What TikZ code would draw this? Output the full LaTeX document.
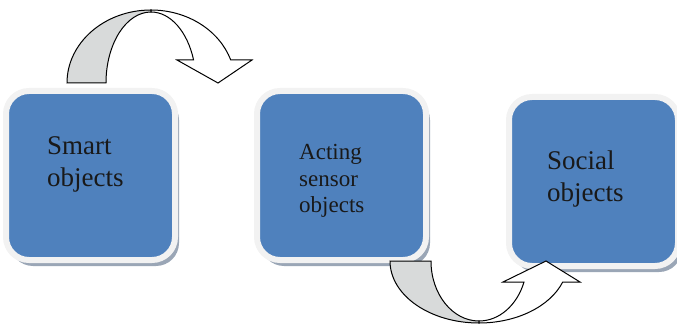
\documentclass[tikz,border=0pt]{standalone}
\usepackage{fontspec}
\setmainfont{Liberation Serif}
\usetikzlibrary{positioning,shadows}
\definecolor{boxblue}{HTML}{4F81BD}
\definecolor{boxrim}{HTML}{F2F2F2}
\definecolor{boxshade}{HTML}{9AA6B6}
\definecolor{backgray}{HTML}{D8DADA}

\begin{document}
\begin{tikzpicture}[x=1pt, y=1pt,
  objbox/.style = {rectangle, rounded corners=23pt, fill=boxblue, draw=boxrim, line width=6pt, outer sep=0pt,
    minimum width=169pt, minimum height=169pt,
    drop shadow={shadow xshift=4pt, shadow yshift=-6pt, fill=boxshade, opacity=1}},
  objtext/.style = {anchor=base west, align=left, inner sep=0pt, text=black!90},
  bandarrow/.style = {draw=black, line width=1pt, line join=miter}]
  \useasboundingbox (0,0) rectangle (677,327);
  \node[objbox] (smart) at (90.5,151.5) {};
  \node[objbox, right=82pt of smart] (acting) {};
  \node[objbox, right=83pt of acting, yshift=-6pt] (social) {};
  \node[objtext, font=\fontsize{27}{32}\selectfont] (smarttxt) at ([shift={(41pt,-95pt)}]smart.north west) {Smart\\objects};
  \node[objtext, font=\fontsize{23}{27}\selectfont] (actingtxt) at ([shift={(42pt,-122pt)}]acting.north west) {Acting\\sensor\\objects};
  \node[objtext, font=\fontsize{27}{33}\selectfont] (socialtxt) at ([shift={(38pt,-105pt)}]social.north west) {Social\\objects};
  % upper curved arrow
  \coordinate (topc) at ([shift={(60.5pt,8pt)}]smart.north);
  \filldraw[bandarrow, fill=backgray] ([xshift=-84pt]topc) arc[start angle=180, end angle=90, x radius=84pt, y radius=73pt]
    -- ([yshift=71pt]topc) arc[start angle=90, end angle=180, x radius=45pt, y radius=71pt] -- cycle;
  \filldraw[bandarrow, fill=white] ([yshift=73pt]topc) arc[start angle=90, end angle=18.4, x radius=84pt, y radius=73pt]
    -- ([shift={(101pt,23pt)}]topc) -- ([shift={(67pt,0pt)}]topc) -- ([shift={(26pt,23pt)}]topc)
    -- ([shift={(42.6pt,23pt)}]topc) arc[start angle=18.9, end angle=90, x radius=45pt, y radius=71pt] -- cycle;
  % lower curved arrow
  \coordinate (botc) at ([shift={(137.5pt,-1pt)}]acting.south);
  \filldraw[bandarrow, fill=backgray] ([xshift=-89pt]botc) arc[start angle=180, end angle=270, x radius=89pt, y radius=62pt]
    -- ([yshift=-60pt]botc) arc[start angle=270, end angle=180, x radius=48pt, y radius=60pt] -- cycle;
  \filldraw[bandarrow, fill=white] ([yshift=-62pt]botc) arc[start angle=270, end angle=340.2, x radius=89pt, y radius=62pt]
    -- ([shift={(101pt,-21pt)}]botc) -- ([shift={(67pt,0pt)}]botc) -- ([shift={(24pt,-21pt)}]botc)
    -- ([shift={(45pt,-21pt)}]botc) arc[start angle=339.5, end angle=270, x radius=48pt, y radius=60pt] -- cycle;
\end{tikzpicture}
\end{document}
